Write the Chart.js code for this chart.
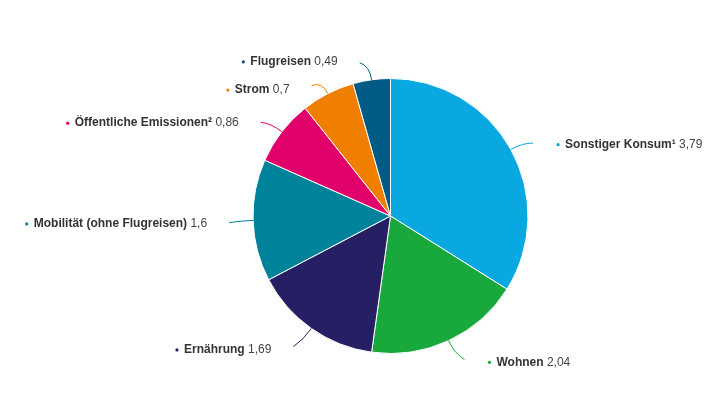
<!DOCTYPE html><html><head><meta charset="utf-8">
<script src="https://cdn.jsdelivr.net/npm/chart.js@4"></script>
<style>html,body{margin:0;background:#fff}#w{width:717px;height:403px}</style></head><body><div id="w"><canvas id="c"></canvas></div>
<script>
const categories=["Sonstiger Konsum¹","Wohnen","Ernährung","Mobilität (ohne Flugreisen)","Öffentliche Emissionen²","Strom","Flugreisen"];
const values=[3.79,2.04,1.69,1.6,0.86,0.7,0.49];
const colors=["#0aa8e0","#18a83c","#261f63","#00839a","#e2006a","#f07f00","#005a86"];
const labelShift=[14,-3,-2,3,12,21,8];
const labelsPlugin={id:"lbl",afterDatasetsDraw(chart){
 const ctx=chart.ctx;const meta=chart.getDatasetMeta(0);
 meta.data.forEach((a,i)=>{
  const m=(a.startAngle+a.endAngle)/2,r=a.outerRadius,cx=a.x,cy=a.y;
  const cos=Math.cos(m),sin=Math.sin(m);
  const x0=cx+cos*r,y0=cy+sin*r;
  const x1=cx+cos*(r+14),y1=cy+sin*(r+14);
  const right=cos>=0;
  const sh=labelShift[i];
  const x2=x1+(right?10:-10),y2=y1+(sin>0.3?8:sin<-0.3?-8:0)+sh*0.6;
  ctx.save();ctx.strokeStyle=colors[i];ctx.lineWidth=1;ctx.beginPath();ctx.moveTo(x0,y0);ctx.quadraticCurveTo(x1,y1,x2,y2);ctx.stroke();
  const tx=x2+(right?24:-22),ty=y1+(sin>0.3?12:sin<-0.3?-12:0)+sh;
  const name=categories[i],val=" "+values[i].toString().replace(".",",");
  ctx.font="bold 12px 'Liberation Sans', Arial";const wn=ctx.measureText(name).width;
  ctx.font="12px 'Liberation Sans', Arial";const wv=ctx.measureText(val).width;
  let sx=right?tx+8:tx-wn-wv;
  ctx.fillStyle=colors[i];ctx.beginPath();ctx.arc(sx-7,ty,1.6,0,Math.PI*2);ctx.fill();
  ctx.textBaseline="middle";ctx.fillStyle="#333";
  ctx.font="bold 12px 'Liberation Sans', Arial";ctx.fillText(name,sx,ty);
  ctx.font="12px 'Liberation Sans', Arial";ctx.fillStyle="#444";ctx.fillText(val,sx+wn,ty);
  ctx.restore();
 });}};
new Chart(document.getElementById("c"),{type:"pie",data:{labels:categories,datasets:[{data:values,backgroundColor:colors,borderColor:"#fff",borderWidth:1}]},
options:{responsive:true,maintainAspectRatio:false,animation:false,layout:{padding:{top:78,bottom:49,left:64,right:0}},
plugins:{legend:{display:false},tooltip:{enabled:false}}},plugins:[labelsPlugin]});
</script></body></html>
